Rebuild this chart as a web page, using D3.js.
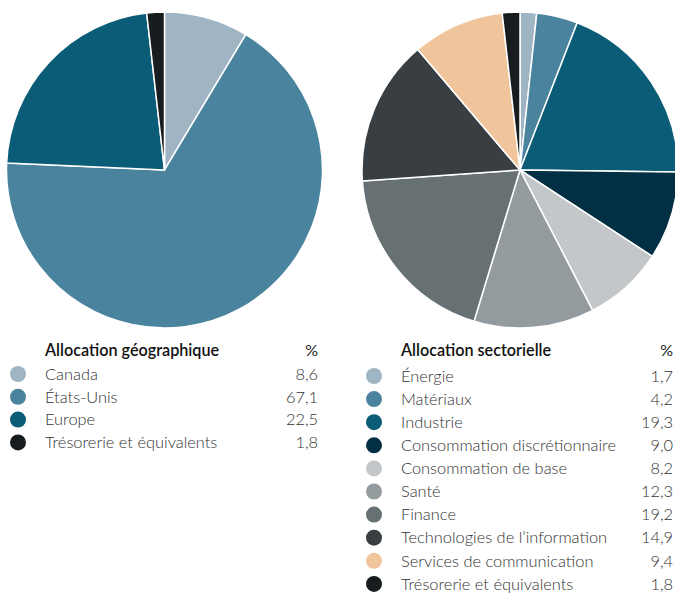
<!DOCTYPE html>
<html><head><meta charset="utf-8">
<script src="https://cdn.jsdelivr.net/npm/d3@7/dist/d3.min.js"></script>
<style>body{margin:0;background:#fff;} svg{display:block;font-family:Lato,"Open Sans",sans-serif;}</style>
</head><body>
<svg id="c" width="675" height="593"></svg>
<script>
const geoLabels = ["Canada", "États-Unis", "Europe", "Trésorerie et équivalents"];
const geoValues = [8.6, 67.1, 22.5, 1.8];
const geoColors = ["#9fb5c4", "#4a839e", "#0b5c76", "#171c1f"];

const secLabels = ["Énergie", "Matériaux", "Industrie", "Consommation discrétionnaire", "Consommation de base", "Santé", "Finance", "Technologies de l’information", "Services de communication", "Trésorerie et équivalents"];
const secValues = [1.7, 4.2, 19.3, 9.0, 8.2, 12.3, 19.2, 14.9, 9.4, 1.8];
const secColors = ["#9fb5c4", "#4a839e", "#0b5c76", "#012f43", "#c3c7c9", "#939b9f", "#677174", "#383e41", "#f0c59b", "#171c1f"];

const svg = d3.select("#c");
const fmt = v => d3.format(".1f")(v).replace(".", ",");

function drawPie(cx, cy, r, values, colors) {
  const pie = d3.pie().sort(null).value(d => d);
  const arc = d3.arc().innerRadius(0).outerRadius(r);
  svg.append("g").attr("transform", `translate(${cx},${cy})`)
    .selectAll("path").data(pie(values)).join("path")
    .attr("d", arc).attr("fill", (d, i) => colors[i])
    .attr("stroke", "#fff").attr("stroke-width", 1.5);
}

function drawLegend(x0, xr, yTitle, y0, step, title, labels, values, colors) {
  const g = svg.append("g");
  g.append("text").attr("x", x0 + 27).attr("y", yTitle).attr("font-size", 16.2)
    .attr("font-weight", 600).attr("fill", "#111").text(title);
  g.append("text").attr("x", xr).attr("y", yTitle).attr("font-size", 16)
    .attr("text-anchor", "end").attr("fill", "#222").text("%");
  const y = d3.scaleLinear().domain([0, 1]).range([y0, y0 + step]);
  labels.forEach((l, i) => {
    g.append("circle").attr("cx", x0).attr("cy", y(i)).attr("r", 8).attr("fill", colors[i]);
    g.append("text").attr("x", x0 + 27).attr("y", y(i)).attr("dy", "0.35em")
      .attr("font-size", 16.4).attr("font-weight", 300).attr("fill", "#333").text(l);
    g.append("text").attr("x", xr).attr("y", y(i)).attr("dy", "0.35em")
      .attr("font-size", 16.4).attr("font-weight", 300).attr("text-anchor", "end").attr("fill", "#333").text(fmt(values[i]));
  });
}

drawPie(164.5, 170, 158, geoValues, geoColors);
drawPie(520, 170, 158, secValues, secColors);
drawLegend(18, 318, 356, 374, 22.8, "Allocation géographique", geoLabels, geoValues, geoColors);
drawLegend(374, 673, 356, 376, 23.1, "Allocation sectorielle", secLabels, secValues, secColors);
</script>
</body></html>
